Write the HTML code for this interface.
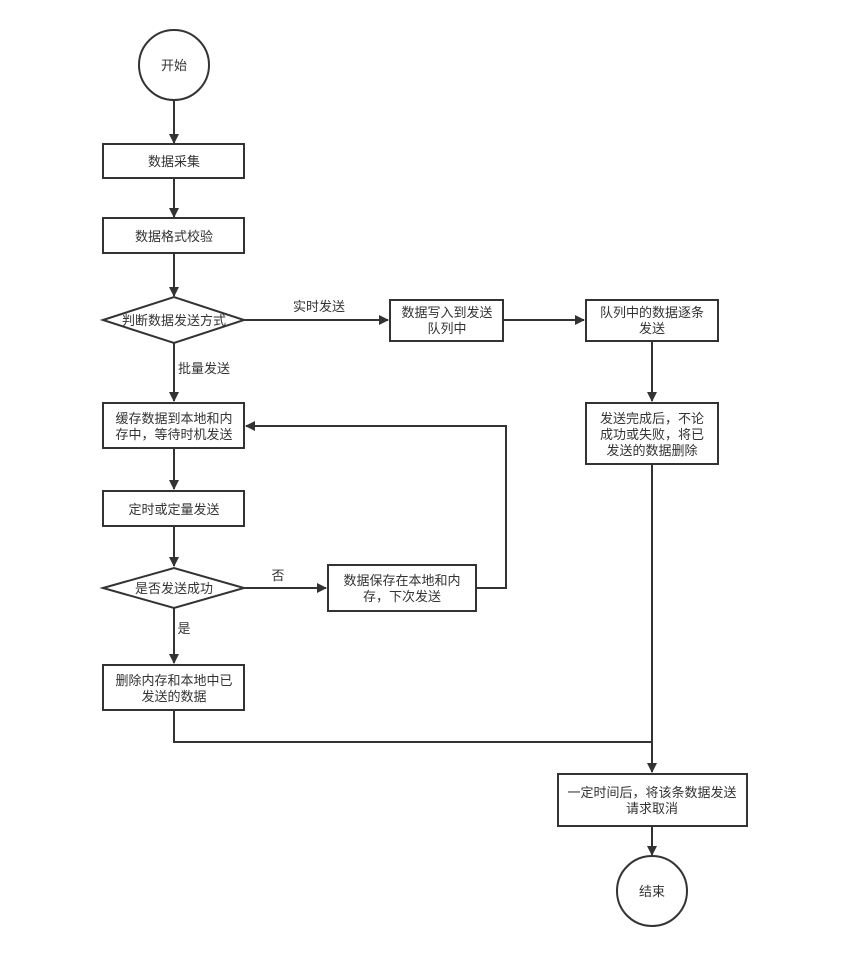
<!DOCTYPE html>
<html><head><meta charset="utf-8"><style>
html,body{margin:0;padding:0;background:#fff;}
svg text{font-family:"Liberation Sans","Noto Sans CJK SC",sans-serif;font-size:13px;fill:#333;}
</style></head><body>
<svg width="845" height="956" viewBox="0 0 845 956" xmlns="http://www.w3.org/2000/svg">
<defs><marker id="a" markerWidth="10" markerHeight="10" refX="9" refY="5" orient="auto" markerUnits="userSpaceOnUse"><path d="M0,0 L10,5 L0,10 Z" fill="#333"/></marker></defs>
<g fill="#fff" stroke="#333" stroke-width="2">
<circle cx="174" cy="65" r="35"/>
<rect x="103" y="144" width="141" height="34"/>
<rect x="103" y="218" width="141" height="35"/>
<polygon points="103,320 174,297 244,320 174,343"/>
<rect x="390" y="300" width="113" height="41"/>
<rect x="586" y="300" width="132" height="41"/>
<rect x="586" y="403" width="132" height="61"/>
<rect x="103" y="403" width="141" height="45"/>
<rect x="103" y="491" width="141" height="35"/>
<polygon points="103,588 174,568 244,588 174,608"/>
<rect x="328" y="565" width="148" height="46"/>
<rect x="103" y="665" width="141" height="45"/>
<rect x="558" y="774" width="189" height="52"/>
<circle cx="652" cy="891" r="35"/>
</g>
<g fill="none" stroke="#333" stroke-width="2" marker-end="url(#a)">
<path d="M174,100 V143"/>
<path d="M174,178 V217"/>
<path d="M174,253 V296"/>
<path d="M244,320 H388"/>
<path d="M503,320 H584"/>
<path d="M652,341 V401"/>
<path d="M652,464 V772"/>
<path d="M174,343 V401"/>
<path d="M174,448 V489"/>
<path d="M174,526 V566"/>
<path d="M244,588 H326"/>
<path d="M476,588 H506 V426 H246"/>
<path d="M174,608 V663"/>
<path d="M652,826 V855"/>
</g>
<path d="M174,710 V742 H652" fill="none" stroke="#333" stroke-width="2"/>
<g text-anchor="middle">
<text x="174" y="70">开始</text>
<text x="174" y="166">数据采集</text>
<text x="174" y="241">数据格式校验</text>
<text x="174" y="325">判断数据发送方式</text>
<text x="319" y="311">实时发送</text>
<text x="447" y="317">数据写入到发送</text>
<text x="447" y="333">队列中</text>
<text x="652" y="317">队列中的数据逐条</text>
<text x="652" y="333">发送</text>
<text x="652" y="423">发送完成后，不论</text>
<text x="652" y="439">成功或失败，将已</text>
<text x="652" y="455">发送的数据删除</text>
<text x="204" y="373">批量发送</text>
<text x="174" y="423">缓存数据到本地和内</text>
<text x="174" y="439">存中，等待时机发送</text>
<text x="174" y="514">定时或定量发送</text>
<text x="174" y="593">是否发送成功</text>
<text x="278" y="580">否</text>
<text x="402" y="585">数据保存在本地和内</text>
<text x="402" y="601">存，下次发送</text>
<text x="184" y="633">是</text>
<text x="174" y="685">删除内存和本地中已</text>
<text x="174" y="701">发送的数据</text>
<text x="652" y="797">一定时间后，将该条数据发送</text>
<text x="652" y="813">请求取消</text>
<text x="652" y="896">结束</text>
</g>
</svg>
</body></html>
